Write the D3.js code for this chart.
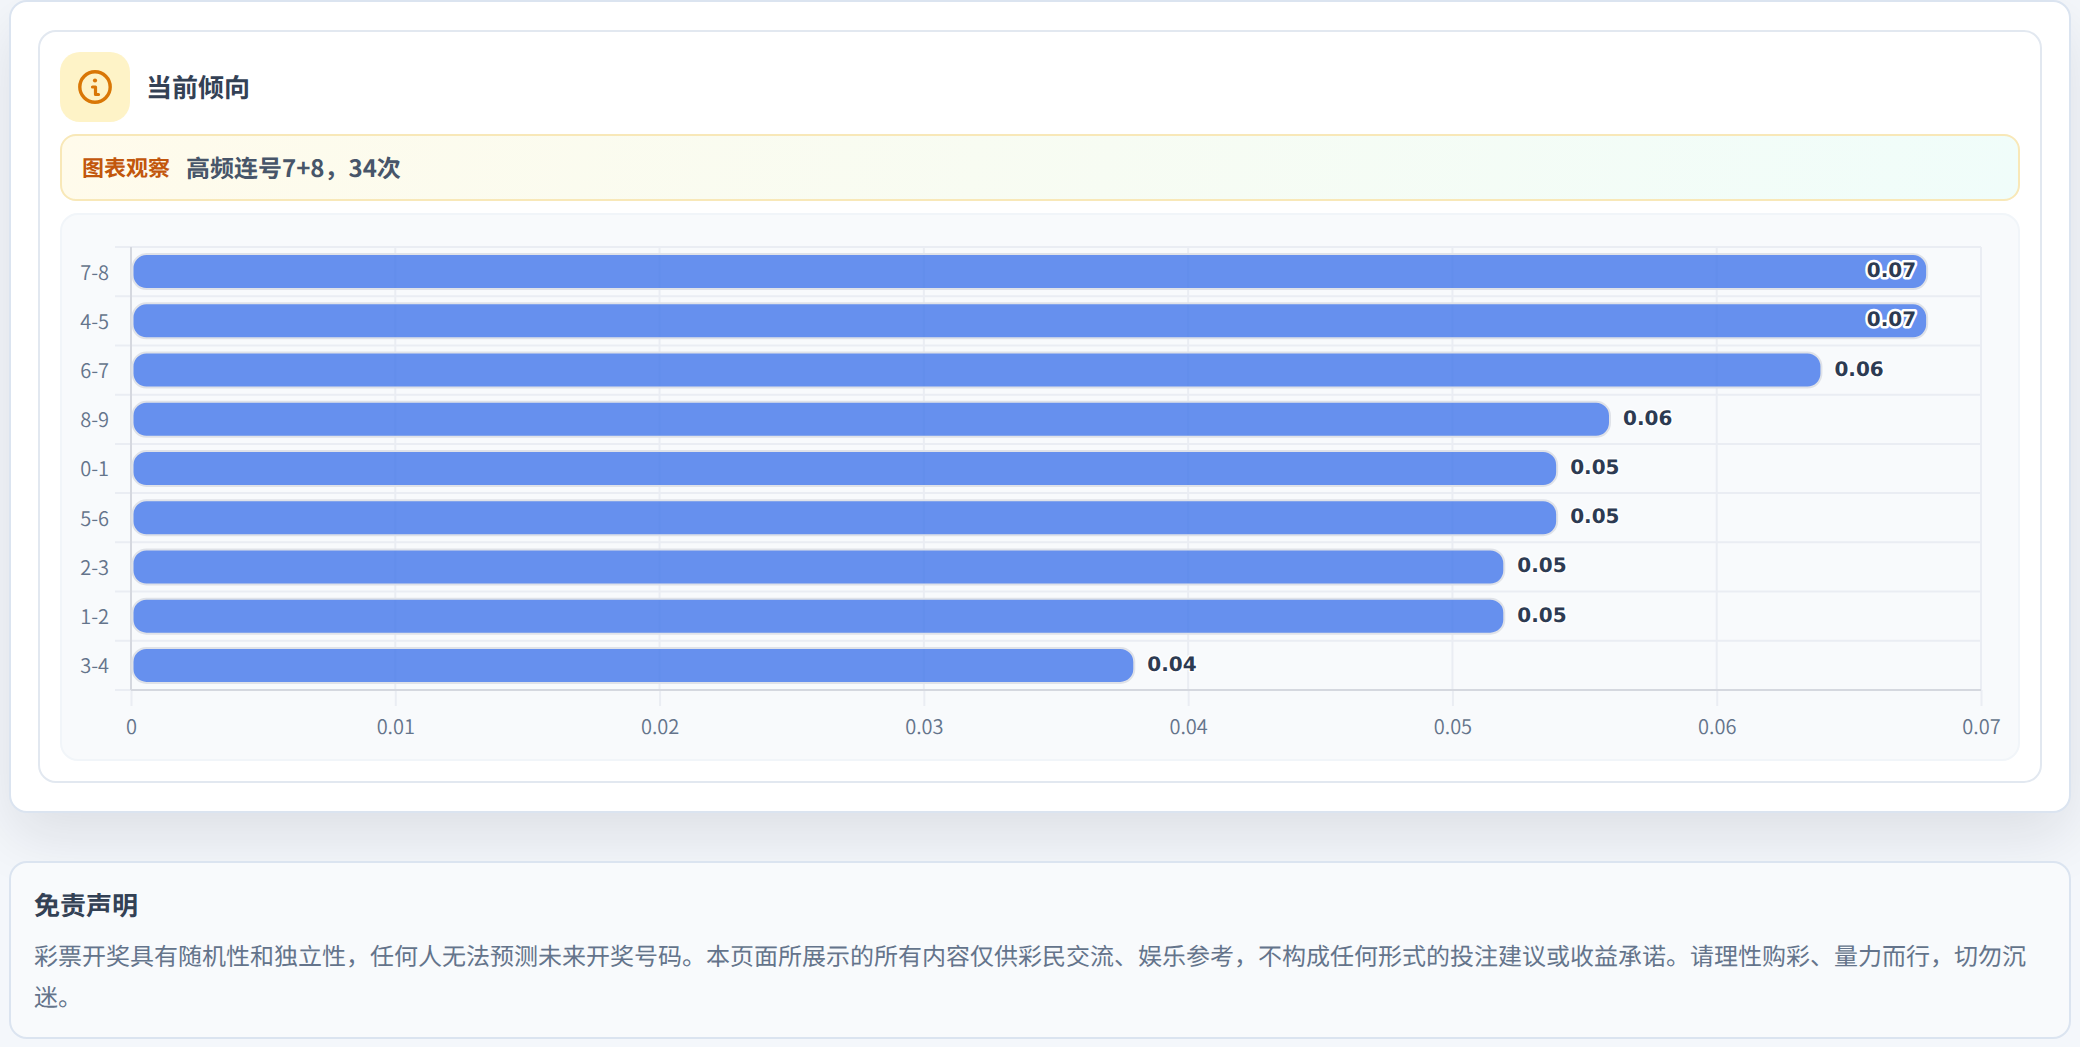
<!DOCTYPE html>
<html lang="zh"><head><meta charset="utf-8">
<script src="https://cdn.jsdelivr.net/npm/d3@7/dist/d3.min.js"></script>
<style>
html,body{margin:0;padding:0;width:2080px;height:1047px;overflow:hidden;background:#f4f7fb;font-family:"Noto Sans CJK SC","Noto Sans",sans-serif;text-rendering:geometricPrecision;}
.abs{position:absolute;box-sizing:border-box;}
#outer{left:9px;top:0;width:2062px;height:813px;background:#fff;border:2px solid #dbe4f0;border-radius:18px;box-shadow:0 24px 60px rgba(15,23,42,.10);}
#inner{left:38px;top:30px;width:2004px;height:753px;background:#fff;border:2px solid #e2e8f0;border-radius:18px;}
#iconbox{left:60px;top:52px;width:70px;height:70px;border-radius:20px;background:#fef3c7;}
#title{left:146px;top:68px;font-size:26px;line-height:38px;font-weight:600;color:#334155;white-space:nowrap;}
#note{left:60px;top:134px;width:1960px;height:67px;border:2px solid #f8e8b8;border-radius:16px;background:linear-gradient(100deg,#fffbeb 0%,#f0fdfa 100%);}
#noteL{left:82px;top:151px;font-size:22px;line-height:32px;font-weight:700;color:#c2570c;white-space:nowrap;}
#noteT{left:186px;top:149px;font-size:24px;line-height:35px;font-weight:600;color:#475569;white-space:nowrap;}
#panel{left:60px;top:213px;width:1960px;height:548px;background:#f8fafc;border:2px solid #f1f5f9;border-radius:18px;}
#chart{left:0;top:0;}
#foot{left:9px;top:861px;width:2062px;height:178px;background:#f8fafc;border:2px solid #dbe4f0;border-radius:18px;}
#footT{left:34px;top:886px;font-size:26px;line-height:38px;font-weight:700;color:#334155;white-space:nowrap;}
#footB{left:34px;top:934px;width:2004px;font-size:24px;line-height:41px;color:#64748b;}
</style></head><body>
<div class="abs" id="outer"></div>
<div class="abs" id="inner"></div>
<div class="abs" id="iconbox"></div>
<div class="abs" id="title">当前倾向</div>
<div class="abs" id="note"></div>
<div class="abs" id="noteL">图表观察</div>
<div class="abs" id="noteT">高频连号7+8，34次</div>
<div class="abs" id="panel"></div>
<svg class="abs" id="chart" width="2080" height="1047"></svg>
<div class="abs" id="foot"></div>
<div class="abs" id="footT">免责声明</div>
<div class="abs" id="footB">彩票开奖具有随机性和独立性，任何人无法预测未来开奖号码。本页面所展示的所有内容仅供彩民交流、娱乐参考，不构成任何形式的投注建议或收益承诺。请理性购彩、量力而行，切勿沉迷。</div>
<script>
const categories = ["7-8","4-5","6-7","8-9","0-1","5-6","2-3","1-2","3-4"];
const seriesValues = [0.068,0.068,0.064,0.056,0.054,0.054,0.052,0.052,0.038];
const xTicks = [0,0.01,0.02,0.03,0.04,0.05,0.06,0.07];

const svg = d3.select("#chart");
const L=131,R=1981,T=247,B=690;
const gridColor = "#eaedf3";
const x = d3.scaleLinear().domain([0,0.07]).range([L,R]);
const y = d3.scaleBand().domain(categories).range([T,B]).paddingInner(0);

// info icon
const ic = svg.append("g").attr("transform","translate(95,87)").attr("fill","none").attr("stroke","#d97706").attr("stroke-linecap","round");
ic.append("circle").attr("r",15.2).attr("stroke-width",3.4);
ic.append("path").attr("d","M-2.5,0 H0.5 V7.5 H3.5").attr("stroke-width",3.2).attr("stroke-linejoin","round");
ic.append("circle").attr("cy",-6.5).attr("r",2.1).attr("fill","#d97706").attr("stroke","none");

// vertical grid + ticks + labels
const gx = svg.append("g").attr("transform",`translate(0,${B})`)
  .call(d3.axisBottom(x).tickValues(xTicks).tickFormat(d=>d===0?"0":d3.format(".2f")(d)).tickSize(16).tickPadding(14));
gx.select(".domain").remove();
gx.selectAll("line").attr("stroke",gridColor).attr("stroke-width",2);
gx.selectAll("text").attr("fill","#64748b").attr("font-size",20).attr("font-family",'"Noto Sans CJK SC"').attr("font-weight",350);
svg.append("g").selectAll("line").data(xTicks).join("line")
  .attr("x1",d=>x(d)).attr("x2",d=>x(d)).attr("y1",T).attr("y2",B)
  .attr("stroke",gridColor).attr("stroke-width",2);

// horizontal band lines
svg.append("g").selectAll("line").data(categories.map(c=>y(c)).concat([B])).join("line")
  .attr("x1",115).attr("x2",R).attr("y1",d=>d).attr("y2",d=>d)
  .attr("stroke",gridColor).attr("stroke-width",2);

// y axis
const gy = svg.append("g").attr("transform",`translate(${L},1.5)`)
  .call(d3.axisLeft(y).tickSize(0).tickPadding(22));
gy.select(".domain").remove();
gy.selectAll("text").attr("fill","#64748b").attr("font-size",20).attr("font-family",'"Noto Sans CJK SC"').attr("font-weight",350);
svg.append("line").attr("x1",L).attr("x2",L).attr("y1",T).attr("y2",B).attr("stroke","#d5d8df").attr("stroke-width",2);
svg.append("line").attr("x1",L).attr("x2",R).attr("y1",B).attr("y2",B).attr("stroke","#d5d8df").attr("stroke-width",2);

// bars
const barH = 35;
svg.append("g").selectAll("rect").data(seriesValues).join("rect")
  .attr("x",x(0)+1.5).attr("y",(d,i)=>y(categories[i])+y.bandwidth()/2-barH/2)
  .attr("width",d=>x(d)-x(0)-2.5).attr("height",barH).attr("rx",14).attr("ry",14)
  .attr("fill","#4176ea").attr("fill-opacity",.8)
  .attr("stroke","#dfe2e8").attr("stroke-width",2);

// value labels
svg.append("g").selectAll("text").data(seriesValues).join("text")
  .attr("x",d=>d>=0.068? x(d)-12 : x(d)+12)
  .attr("y",(d,i)=>y(categories[i])+y.bandwidth()/2-1.5)
  .attr("dy","0.35em")
  .attr("text-anchor",d=>d>=0.068?"end":"start")
  .attr("font-family",'"DejaVu Sans"').attr("font-weight",700).attr("font-size",20)
  .attr("fill","#2d3b52").attr("stroke","#fff").attr("stroke-width",d=>d>=0.068?5:3)
  .attr("stroke-linejoin","round").attr("paint-order","stroke")
  .text(d=>d3.format(".2f")(d));
</script>
</body></html>
